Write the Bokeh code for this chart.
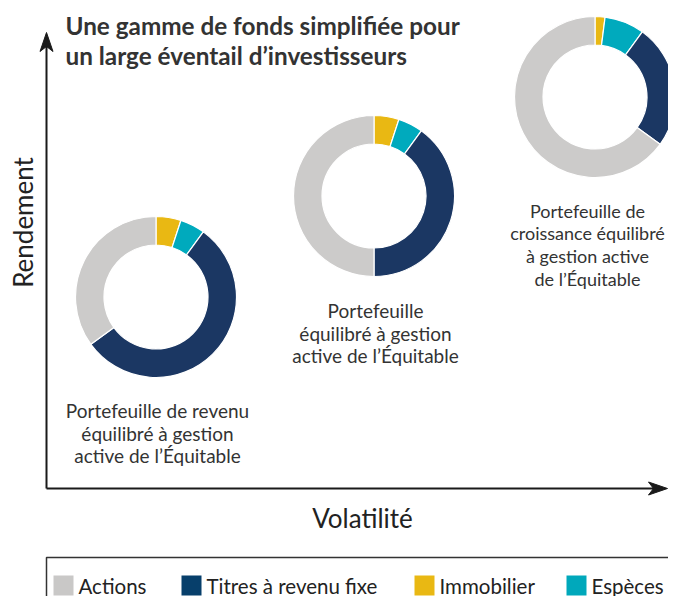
import math
from bokeh.plotting import figure
from bokeh.models import Range1d, ColumnDataSource
from bokeh.core.properties import value
from bokeh.embed import file_html
from bokeh.resources import INLINE

# ---------------- data ----------------
categories = ["Actions", "Titres à revenu fixe", "Immobilier", "Espèces"]
colors = {"Actions": "#CCCBCA", "Titres à revenu fixe": "#1B3763",
          "Immobilier": "#E9B813", "Espèces": "#00AABD"}
legend_colors = {"Actions": "#C9C8C7", "Titres à revenu fixe": "#073F6B",
                 "Immobilier": "#E9B813", "Espèces": "#00A8BB"}

portfolio_labels = [
    ["Portefeuille de revenu", "équilibré à gestion", "active de l’Équitable"],
    ["Portefeuille", "équilibré à gestion", "active de l’Équitable"],
    ["Portefeuille de", "croissance équilibré", "à gestion active", "de l’Équitable"],
]
# allocation (%) – clockwise from 12 o'clock: Immobilier, Espèces, Titres, Actions
immobilier = [5, 5, 2]
especes = [5, 5, 8]
titres = [55, 40, 25]
actions = [35, 50, 65]

title_lines = ["Une gamme de fonds simplifiée pour", "un large éventail d’investisseurs"]
x_label = "Volatilité"
y_label = "Rendement"

# ---------------- layout (window pixel coordinates) ----------------
W, H = 668, 596
WIN_H = 612


def Y(y):  # window y (down) -> data y (up)
    return WIN_H - y


centers = [(155.5, 296.5), (373.5, 195.5), (594.5, 96.5)]
label_pos = [(157, 410), (375, 310), (587, 210)]
label_size = ["19px", "19px", "18px"]
line_gap = 22.7
R_OUT, R_IN = 80.5, 52

p = figure(width=W, height=H, output_backend="svg", toolbar_location=None,
           x_range=Range1d(0, W), y_range=Range1d(WIN_H - H, WIN_H),
           x_axis_location=None, y_axis_location=None, min_border=0)
p.grid.visible = False
p.outline_line_color = None
p.background_fill_color = "white"
p.border_fill_color = "white"

FONT = value("Lato")
TXT = "#333333"

# ---------------- donuts ----------------
seg_order = ["Immobilier", "Espèces", "Titres à revenu fixe", "Actions"]
series = {"Immobilier": immobilier, "Espèces": especes,
          "Titres à revenu fixe": titres, "Actions": actions}
xs, ys, sa, ea, cols = [], [], [], [], []
for i, (cx, cy) in enumerate(centers):
    total = sum(series[c][i] for c in seg_order)
    cum = 0.0
    for c in seg_order:
        v = series[c][i]
        start = math.pi / 2 - 2 * math.pi * cum / total
        cum += v
        end = math.pi / 2 - 2 * math.pi * cum / total
        xs.append(cx); ys.append(Y(cy)); sa.append(start); ea.append(end)
        cols.append(colors[c])
src = ColumnDataSource(dict(x=xs, y=ys, sa=sa, ea=ea, c=cols))
p.annular_wedge(x="x", y="y", inner_radius=R_IN, outer_radius=R_OUT,
                inner_radius_units="screen", outer_radius_units="screen",
                start_angle="sa", end_angle="ea", direction="clock",
                fill_color="c", line_color="white", line_width=1.2, source=src)

# ---------------- labels ----------------
for (x0, y0), lines, fs in zip(label_pos, portfolio_labels, label_size):
    p.text(x=[x0] * len(lines), y=[Y(y0 + k * line_gap) for k in range(len(lines))],
           text=lines, text_font=FONT, text_font_size=fs,
           text_align="center", text_baseline="middle", text_color=TXT)

# ---------------- title ----------------
p.text(x=[65, 65], y=[Y(25), Y(55)], text=title_lines, text_font=FONT,
       text_font_size="24.3px", text_font_style="bold", text_align="left",
       text_baseline="middle", text_color=TXT)

# ---------------- axes with arrows ----------------
ox, oy = 46, 488
tipv = (46, 32)
tiph = (667, 488)
p.segment(x0=[ox, ox], y0=[Y(oy), Y(oy)], x1=[ox, tiph[0] - 10], y1=[Y(40), Y(oy)],
          line_color="#1a1a1a", line_width=2)
p.patches(
    xs=[[tipv[0], tipv[0] - 6.5, tipv[0], tipv[0] + 6.5],
        [tiph[0], tiph[0] - 19, tiph[0] - 14, tiph[0] - 19]],
    ys=[[Y(tipv[1]), Y(tipv[1] + 19), Y(tipv[1] + 14), Y(tipv[1] + 19)],
        [Y(tiph[1]), Y(tiph[1] - 6.5), Y(tiph[1]), Y(tiph[1] + 6.5)]],
    fill_color="#1a1a1a", line_color="#1a1a1a", line_width=1)

p.text(x=[362], y=[Y(517)], text=[x_label], text_font=FONT, text_font_size="26px",
       text_align="center", text_baseline="middle", text_color="#222222")
p.text(x=[22], y=[Y(222)], text=[y_label], text_font=FONT, text_font_size="26px",
       text_align="center", text_baseline="middle", text_color="#222222",
       angle=math.pi / 2)

# ---------------- legend box ----------------
p.quad(left=[46], right=[720], top=[Y(557)], bottom=[Y(640)],
       fill_color=None, line_color="#333333", line_width=1.5)
sq_x = [53, 181, 414, 566]
sq_w = 20
legend_order = ["Actions", "Titres à revenu fixe", "Immobilier", "Espèces"]
p.quad(left=sq_x, right=[x + sq_w for x in sq_x],
       top=[Y(575)] * 4, bottom=[Y(595)] * 4,
       fill_color=[legend_colors[c] for c in legend_order], line_color=None)
p.text(x=[x + sq_w + 5 for x in sq_x], y=[Y(585)] * 4, text=legend_order,
       text_font=FONT, text_font_size="20.5px", text_align="left",
       text_baseline="middle", text_color="#222222")

open("out.html", "w").write(file_html(p, INLINE))
